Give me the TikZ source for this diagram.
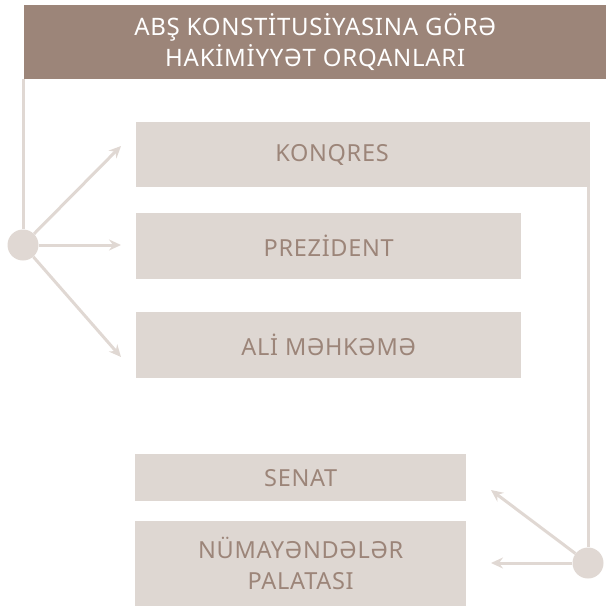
\documentclass[tikz,border=0pt]{standalone}
\usepackage{fontspec}
\setmainfont{Noto Sans}[LetterSpace=3]
\usetikzlibrary{arrows.meta,positioning}
\definecolor{taupe}{HTML}{9C8579}
\definecolor{boxfill}{HTML}{DED7D2}
\definecolor{linec}{HTML}{E0D8D3}
\tikzset{
  boxtext/.style={inner sep=0pt, text=taupe, font=\fontsize{23.5}{31}\selectfont, align=center},
  box/.style={boxtext, fill=boxfill, draw=none},
  conn/.style={draw=linec, line width=3pt},
  arr/.style={conn, -{Stealth[length=12pt,width=11pt,inset=4pt]}},
  dot/.style={circle, fill=linec, minimum size=31pt, inner sep=0pt}
}
\begin{document}
\begin{tikzpicture}[x=1pt,y=-1pt]
\useasboundingbox (0,0) rectangle (612,607);
% title
\node[fill=taupe, minimum width=582pt, minimum height=74pt, inner sep=0pt, anchor=north west, text=white, font=\fontsize{24}{31}\selectfont, align=center] (title) at (24,5) {ABŞ KONSTİTUSİYASINA GÖRƏ\\HAKİMİYYƏT ORQANLARI};
% boxes
\node[box, minimum width=454pt, minimum height=65pt, anchor=north west] (konq) at (136,122) {};
\node[boxtext] (konqt) at ([xshift=196pt]konq.west) {KONQRES};
\node[box, minimum width=385pt, minimum height=66pt, anchor=north west] (prez) at (136,213) {PREZİDENT};
\node[box, minimum width=385pt, minimum height=66pt, anchor=north west] (ali) at (136,312) {ALİ MƏHKƏMƏ};
\node[box, minimum width=331pt, minimum height=47pt, anchor=north west] (senat) at (135,454) {SENAT};
\node[box, minimum width=331pt, minimum height=85pt, anchor=north west] (numa) at (135,521) {NÜMAYƏNDƏLƏR\\PALATASI};
% dots
\node[dot] (cL) at (23,245) {};
\node[dot] (cR) at (588,563) {};
% free ends
\coordinate (aK) at (121,146);
\coordinate (aP) at (121,245);
\coordinate (aA) at (121,357);
\coordinate (aS) at (491,490);
\coordinate (aN) at (491,563);
% connectors
\draw[conn] (cL |- title.south) -- (cL);
\draw[conn] (cR |- konq.south) -- (cR);
\draw[arr] (cL) -- (aK);
\draw[arr] (cL) -- (aP);
\draw[arr] (cL) -- (aA);
\draw[arr] (cR) -- (aS);
\draw[arr] (cR) -- (aN);
\end{tikzpicture}
\end{document}
